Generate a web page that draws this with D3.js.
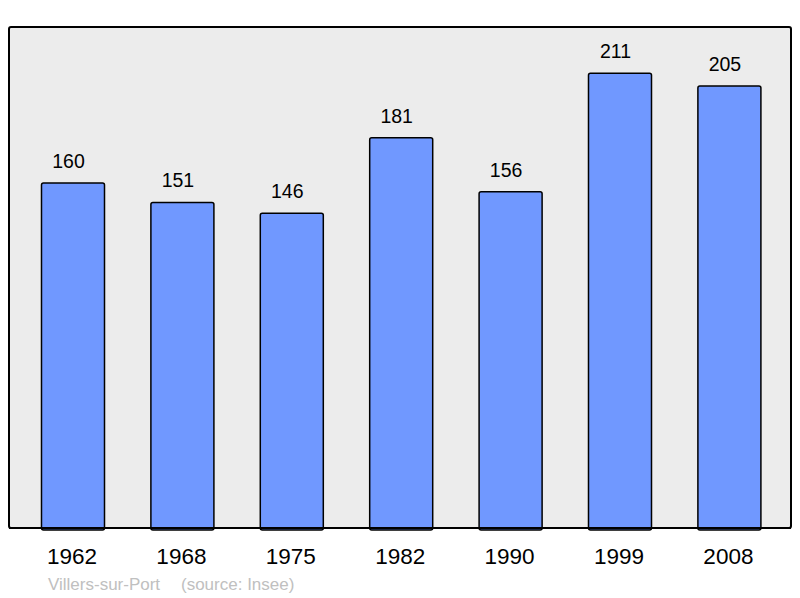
<!DOCTYPE html>
<html><head><meta charset="utf-8">
<script src="https://cdn.jsdelivr.net/npm/d3@7"></script>
<style>body{margin:0;background:#fff;}svg{display:block;font-family:"Liberation Sans",Arial,sans-serif;}</style>
</head><body>
<script>
const years = ["1962","1968","1975","1982","1990","1999","2008"];
const population = [160,151,146,181,156,211,205];
const footerTitle = "Villers-sur-Port";
const footerSource = "(source: Insee)";

const W = 800, H = 598;
const frame = {x0: 9, y0: 27, x1: 791, y1: 528};
const svg = d3.select("body").append("svg").attr("width", W).attr("height", H);

svg.append("rect").attr("x", frame.x0).attr("y", frame.y0)
  .attr("width", frame.x1 - frame.x0).attr("height", frame.y1 - frame.y0)
  .attr("rx", 2).attr("fill", "#ececec").attr("stroke", "#000").attr("stroke-width", 2);

const x = d3.scaleBand().domain(years).range([18.3, 784.1]).paddingInner(0.424).paddingOuter(0.212);
const y = d3.scaleLinear().domain([0, 232.4]).range([frame.y1, frame.y0]);

const data = years.map((yr, i) => ({yr, v: population[i]}));

svg.selectAll("rect.bar").data(data).enter().append("rect").attr("class", "bar")
  .attr("x", d => x(d.yr)).attr("y", d => y(d.v))
  .attr("width", x.bandwidth()).attr("height", d => y(0) - y(d.v) + 2)
  .attr("rx", 2).attr("fill", "#7098ff").attr("stroke", "#000").attr("stroke-width", 1.5);

svg.append("line").attr("x1", frame.x0).attr("x2", frame.x1).attr("y1", frame.y1).attr("y2", frame.y1)
  .attr("stroke", "#000").attr("stroke-width", 2);

svg.selectAll("text.val").data(data).enter().append("text").attr("class", "val")
  .attr("x", d => x(d.yr) + x.bandwidth() / 2 - 4.5).attr("y", d => y(d.v) - 15)
  .attr("text-anchor", "middle").attr("font-size", 19.5).attr("fill", "#000").text(d => d.v);

const xAxis = d3.axisBottom(x).tickSize(0).tickPadding(0);
const gx = svg.append("g").attr("transform", `translate(0,${frame.y1})`).call(xAxis);
gx.select(".domain").remove();
gx.selectAll("text").attr("font-size", 22.5).attr("fill", "#000").attr("font-family", "Liberation Sans, Arial, sans-serif")
  .attr("dy", 0).attr("y", 36).attr("dx", -1);

svg.append("text").attr("x", 48).attr("y", 590).attr("font-size", 17).attr("fill", "#c0c0c0")
  .text(footerTitle);
svg.append("text").attr("x", 181).attr("y", 590).attr("font-size", 17).attr("fill", "#c0c0c0")
  .text(footerSource);
</script>
</body></html>
